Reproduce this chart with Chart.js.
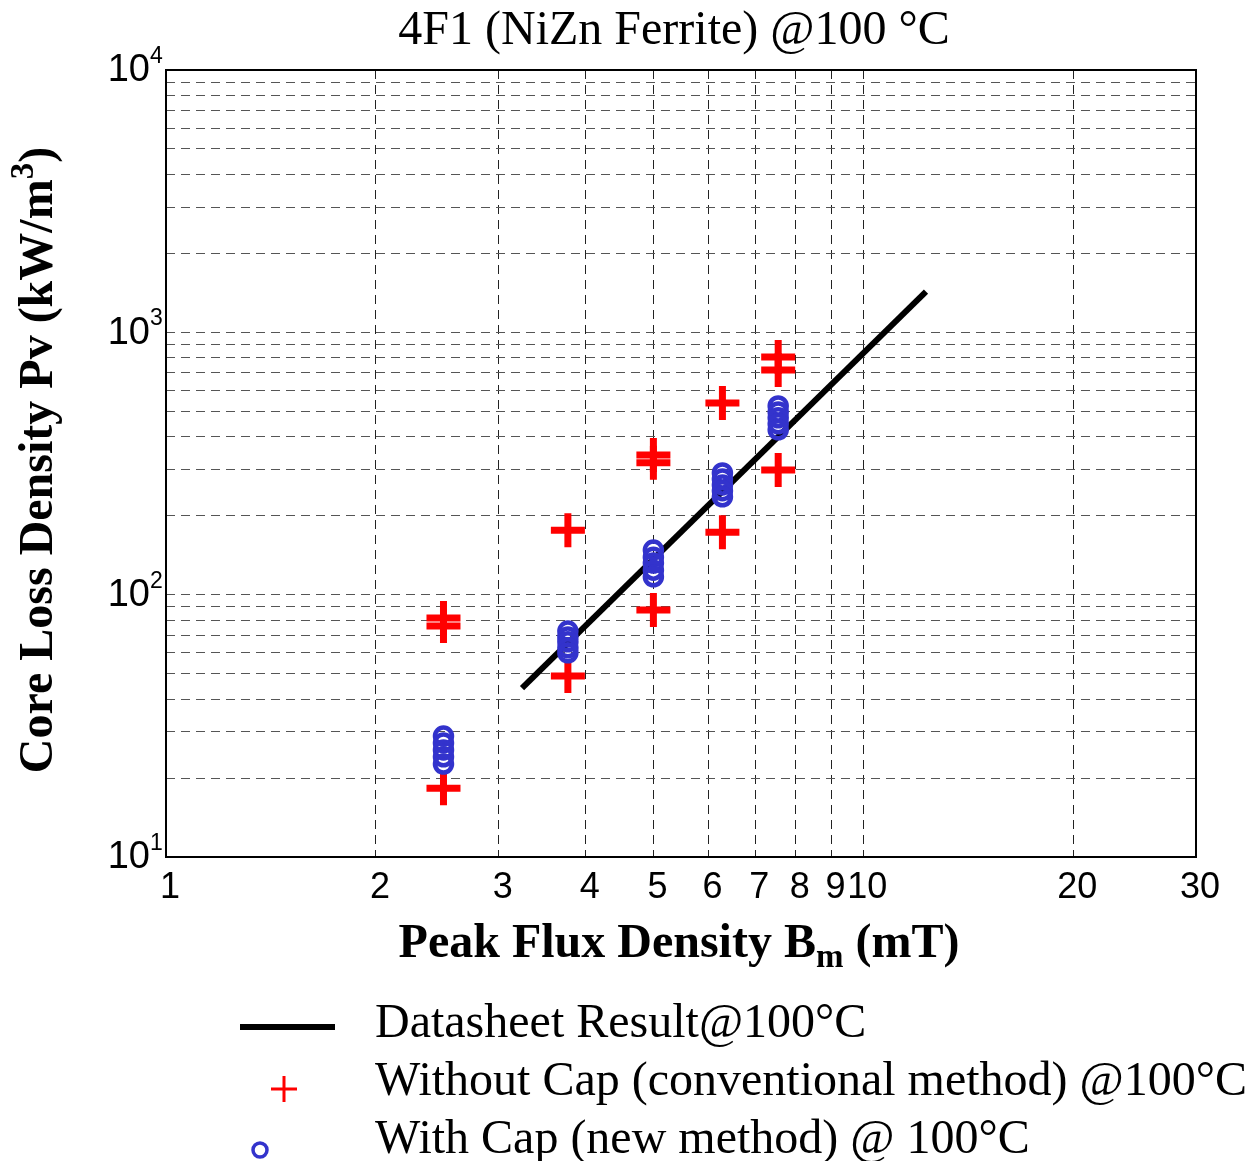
<!DOCTYPE html>
<html>
<head>
<meta charset="utf-8">
<script src="https://cdn.jsdelivr.net/npm/chart.js@4.4.0/dist/chart.umd.min.js"></script>
<style>
body{margin:0;background:#fff}
canvas{display:block}
</style>
</head>
<body>
<canvas id="lossChart" width="1252" height="1161"></canvas>
<script>
// datasheet curve (two end points on log-log axes)
const lineBm = [3.24, 12.3];
const linePv = [44, 1430];

// without cap (conventional method) - red crosses
const crossBm = [2.5, 2.5, 2.5, 3.77, 3.77, 5.0, 5.0, 5.0, 6.28, 6.28, 7.55, 7.55, 7.55];
const crossPv = [81.5, 76, 18.3, 176, 49, 341, 318, 87.4, 538, 173, 805, 719, 299];

// with cap (new method) - blue circles
const circleBm = [2.5, 2.5, 2.5, 2.5, 2.5,
	3.77, 3.77, 3.77, 3.77, 3.77,
	5.0, 5.0, 5.0, 5.0, 5.0,
	6.28, 6.28, 6.28, 6.28, 6.28,
	7.55, 7.55, 7.55, 7.55, 7.55];
const circlePv = [28.9, 27.2, 25.6, 24.1, 22.6,
	72.7, 69.0, 66.1, 62.7, 60.0,
	148, 139, 132, 124, 117,
	291, 276, 262, 249, 236,
	524, 497, 472, 448, 425];

const xTickLabels = [1, 2, 3, 4, 5, 6, 7, 8, 9, 10, 20, 30];
const yDecades = [1, 2, 3, 4];
const seriesNames = ['Datasheet Result@100°C', 'Without Cap (conventional method) @100°C', 'With Cap (new method) @ 100°C'];
const chartTitle = '4F1 (NiZn Ferrite) @100 °C';

// minor grid 10,20,...,90,100,200,... up to 10^4
const yGrid = [];
for (let d = 1; d < 4; d++){
	for (let m = 1; m < 10; m++) yGrid.push(m * Math.pow(10, d));
}
yGrid.push(10000);

const RED = '#ff0000';
const BLUE = '#3333cc';
const SERIF = '"Liberation Serif", "Times New Roman", serif';
const SANS = '"Liberation Sans", Arial, sans-serif';

function zip(xs, ys){ return xs.map((x, i) => ({x, y: ys[i]})) }

const decorPlugin = {
	id: 'decor',
	afterDraw(chart){
		const ctx = chart.ctx;
		const a = chart.chartArea;
		const ys = chart.scales.y;
		ctx.save();

		// plot frame
		ctx.strokeStyle = '#000';
		ctx.lineWidth = 2;
		ctx.setLineDash([]);
		ctx.strokeRect(a.left, a.top, a.right - a.left, a.bottom - a.top);

		ctx.fillStyle = '#000';

		// title
		ctx.font = '48px ' + SERIF;
		ctx.textAlign = 'center';
		ctx.textBaseline = 'alphabetic';
		ctx.fillText(chartTitle, 674, 44);

		// y tick labels 10^n
		for (const n of yDecades){
			const py = ys.getPixelForValue(Math.pow(10, n));
			ctx.font = '38px ' + SANS;
			ctx.textAlign = 'right';
			ctx.textBaseline = 'middle';
			ctx.fillText('10', 150, py + 1);
			ctx.font = '23px ' + SANS;
			ctx.textAlign = 'left';
			ctx.textBaseline = 'alphabetic';
			ctx.fillText(String(n), 150, py - 7);
		}

		// x axis title with subscript
		const bigB = 'bold 48px ' + SERIF, smallB = 'bold 33px ' + SERIF;
		const parts = [['Peak Flux Density B', bigB, 0], ['m', smallB, 10], [' (mT)', bigB, 0]];
		let total = 0;
		for (const p of parts){ ctx.font = p[1]; total += ctx.measureText(p[0]).width }
		let cx = 679 - total / 2;
		ctx.textAlign = 'left';
		for (const p of parts){
			ctx.font = p[1];
			ctx.fillText(p[0], cx, 957 + p[2]);
			cx += ctx.measureText(p[0]).width;
		}

		// y axis title with superscript, rotated
		ctx.save();
		ctx.translate(52, 460);
		ctx.rotate(-Math.PI / 2);
		const yparts = [['Core Loss Density Pv (kW/m', bigB, 0], ['3', smallB, -19], [')', bigB, 0]];
		total = 0;
		for (const p of yparts){ ctx.font = p[1]; total += ctx.measureText(p[0]).width }
		cx = -total / 2;
		for (const p of yparts){
			ctx.font = p[1];
			ctx.fillText(p[0], cx, p[2]);
			cx += ctx.measureText(p[0]).width;
		}
		ctx.restore();

		// legend
		ctx.lineWidth = 6;
		ctx.strokeStyle = '#000';
		ctx.beginPath(); ctx.moveTo(240, 1027); ctx.lineTo(335, 1027); ctx.stroke();
		ctx.lineWidth = 3;
		ctx.strokeStyle = RED;
		ctx.beginPath();
		ctx.moveTo(271, 1089); ctx.lineTo(297, 1089);
		ctx.moveTo(284, 1076); ctx.lineTo(284, 1102);
		ctx.stroke();
		ctx.lineWidth = 3.5;
		ctx.strokeStyle = BLUE;
		ctx.beginPath(); ctx.arc(260, 1150, 7, 0, Math.PI * 2); ctx.stroke();

		ctx.font = '48px ' + SERIF;
		ctx.textAlign = 'left';
		ctx.fillStyle = '#000';
		seriesNames.forEach((s, i) => ctx.fillText(s, 375, 1037 + i * 58));

		ctx.restore();
	}
};

const config = {
	type: 'scatter',
	data: {
		datasets: [
			{
				label: seriesNames[0],
				type: 'line',
				data: zip(lineBm, linePv),
				borderColor: '#000',
				borderWidth: 6,
				pointRadius: 0,
				fill: false,
				order: 3
			},
			{
				label: seriesNames[1],
				data: zip(crossBm, crossPv),
				pointStyle: 'cross',
				pointRadius: 17,
				pointBorderWidth: 7,
				borderColor: RED,
				backgroundColor: RED,
				order: 2
			},
			{
				label: seriesNames[2],
				data: zip(circleBm, circlePv),
				pointStyle: 'circle',
				pointRadius: 8.5,
				pointBorderWidth: 4.5,
				borderColor: BLUE,
				backgroundColor: 'rgba(0,0,0,0)',
				order: 1
			}
		]
	},
	options: {
		responsive: false,
		animation: false,
		layout: { padding: { top: 70, right: 56, left: 0, bottom: 0 } },
		plugins: {
			legend: { display: false },
			title: { display: false },
			tooltip: { enabled: false }
		},
		scales: {
			x: {
				type: 'logarithmic',
				min: 1,
				max: 30,
				afterFit: s => { s.height = 304 },
				afterBuildTicks: s => { s.ticks = xTickLabels.map(v => ({value: v})) },
				grid: { color: '#222', lineWidth: 1, drawTicks: false },
				border: { display: false, dash: [9, 6] },
				ticks: {
					autoSkip: false,
					maxRotation: 0,
					padding: 9,
					labelOffset: 4,
					color: '#000',
					font: { family: SANS, size: 36 },
					callback: v => String(v)
				}
			},
			y: {
				type: 'logarithmic',
				min: 10,
				max: 10000,
				afterFit: s => { s.width = 166 },
				afterBuildTicks: s => { s.ticks = yGrid.map(v => ({value: v})) },
				grid: { color: '#555', lineWidth: 1, drawTicks: false },
				border: { display: false, dash: [9, 6] },
				ticks: { display: false }
			}
		}
	},
	plugins: [decorPlugin]
};

new Chart(document.getElementById('lossChart'), config);
</script>
</body>
</html>
